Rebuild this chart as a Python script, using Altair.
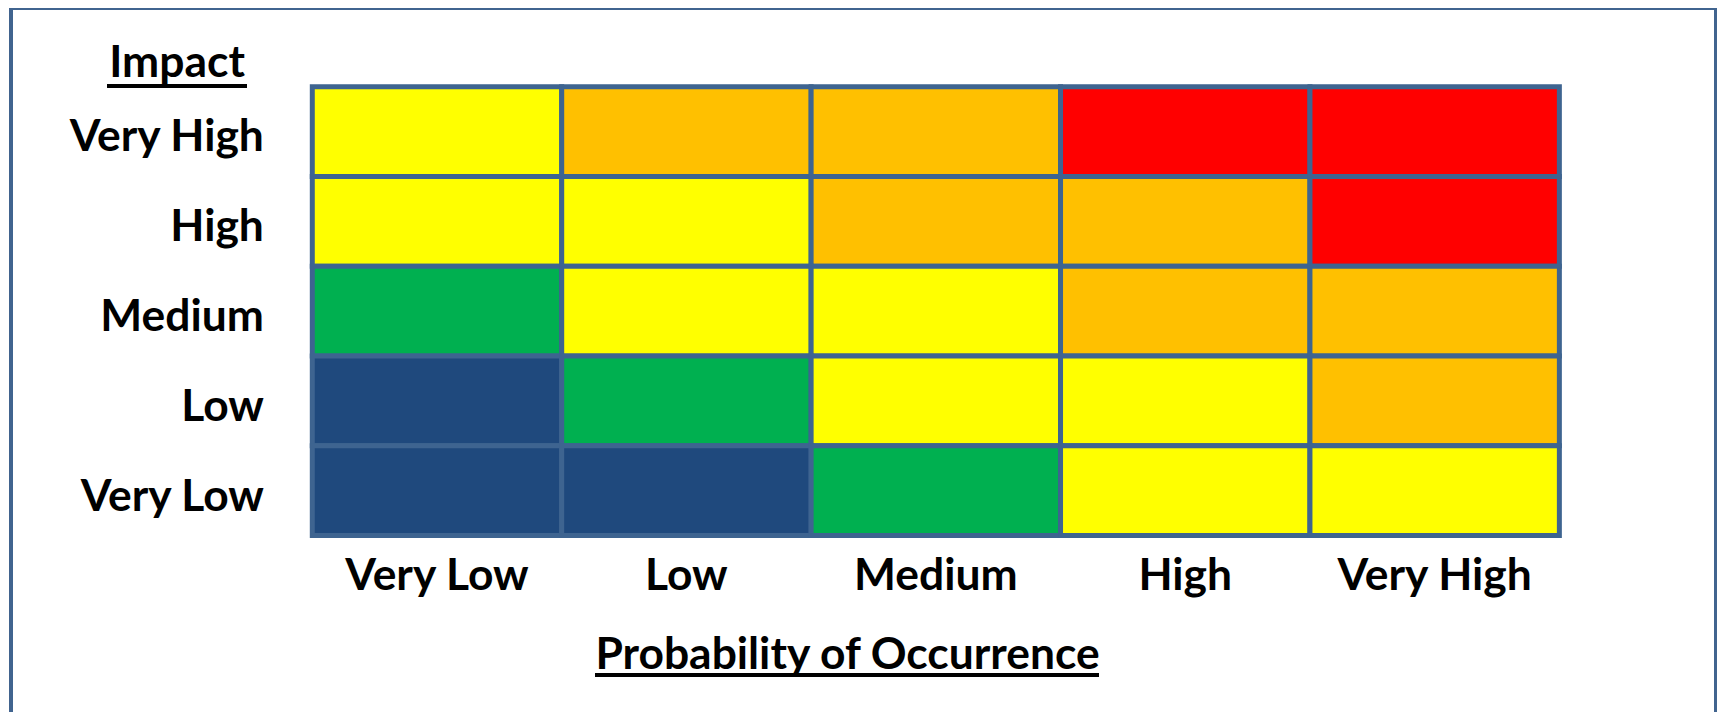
import altair as alt
import pandas as pd

probability = ["Very Low", "Low", "Medium", "High", "Very High"]
impact = ["Very High", "High", "Medium", "Low", "Very Low"]
# risk level per cell, rows follow `impact`, columns follow `probability`
levels = [
    [3, 4, 4, 5, 5],
    [3, 3, 4, 4, 5],
    [2, 3, 3, 4, 4],
    [1, 2, 3, 3, 4],
    [1, 1, 2, 3, 3],
]
level_ids = [1, 2, 3, 4, 5]
level_colors = ["#1F497D", "#00B050", "#FFFF00", "#FFC000", "#FF0000"]

rows = []
for i, imp in enumerate(impact):
    for j, prob in enumerate(probability):
        rows.append({"Impact": imp, "Probability": prob, "Level": levels[i][j]})
df = pd.DataFrame(rows)

FONT = "Lato"
FS = 44.5
BORDER = "#3E6490"
W, H = 1250, 450

cells = alt.Chart(df).mark_rect(stroke=BORDER, strokeWidth=5).encode(
    x=alt.X("Probability:N", sort=probability,
            scale=alt.Scale(paddingInner=0, paddingOuter=0),
            axis=alt.Axis(title="Probability of Occurrence", labelAngle=0,
                          labelPadding=19, titleX=536, titleY=133,
                          titleBaseline="alphabetic", titleAlign="center")),
    y=alt.Y("Impact:N", sort=impact,
            scale=alt.Scale(paddingInner=0, paddingOuter=0),
            axis=alt.Axis(title="Impact", labelPadding=49, labelOffset=7,
                          labelBaseline="middle", labelAlign="right",
                          titleAngle=0, titleX=-136, titleY=-10,
                          titleBaseline="alphabetic", titleAlign="center")),
    color=alt.Color("Level:O", scale=alt.Scale(domain=level_ids, range=level_colors),
                    legend=None),
)

underline_impact = alt.Chart(df).mark_rule(color="black", strokeWidth=3.5).encode(
    x=alt.value(-205), x2=alt.value(-66), y=alt.value(-1)
)
underline_prob = alt.Chart(df).mark_rule(color="black", strokeWidth=3.5).encode(
    x=alt.value(284), x2=alt.value(788), y=alt.value(590)
)
frame = alt.Chart(df).mark_rect(filled=False, stroke="#41648F", strokeWidth=3).encode(
    x=alt.value(-302), x2=alt.value(1407), y=alt.value(-79), y2=alt.value(700)
)

chart = alt.layer(frame, cells, underline_impact, underline_prob).properties(
    width=W, height=H,
    autosize=alt.AutoSizeParams(type="none"),
    padding={"left": 305, "top": 78, "right": 158, "bottom": 176},
    background="white",
).configure_view(strokeWidth=0).configure_axis(
    domain=False, ticks=False, tickSize=0, grid=False,
    labelFont=FONT, labelFontSize=FS, labelFontWeight="bold", labelColor="black",
    titleFont=FONT, titleFontSize=FS, titleFontWeight="bold", titleColor="black",
    labelLimit=400,
)

chart.save("out.html", embed_options={"renderer": "svg", "actions": False})
